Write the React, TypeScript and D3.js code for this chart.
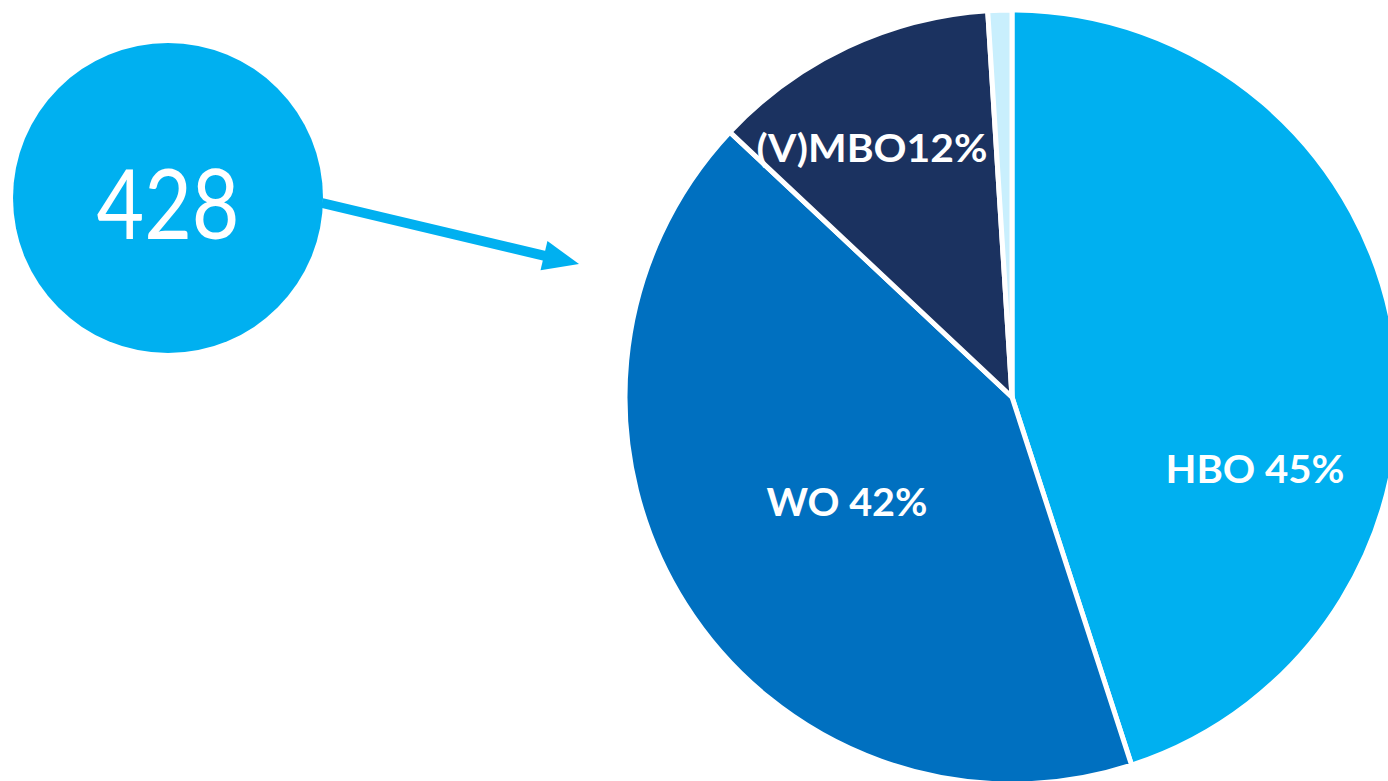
import React from "react";
import * as d3 from "d3";

const categories = ["HBO", "WO", "(V)MBO", "Overig"];
const shares = [45, 42, 12, 1];
const labels = ["HBO 45%", "WO 42%", "(V)MBO12%", ""];
const total = 428;

const colors = ["#00B0F0", "#0070C0", "#1B3260", "#C9EFFD"];
// label layout relative to pie centre: [dx, dy, width]
const labelLayout: [number, number, number][] = [
  [243, 71, 179],
  [-165, 104, 161],
  [-140, -250, 231],
  [0, 0, 0],
];

export default function App() {
  const W = 1388;
  const H = 781;
  const cx = 1012;
  const cy = 397;
  const r = 387;
  const pie = d3
    .pie<number>()
    .sort(null)
    .value((d) => d)
    .startAngle(0)
    .endAngle(2 * Math.PI);
  const arcs = pie(shares);
  const arc = d3.arc<d3.PieArcDatum<number>>().innerRadius(0).outerRadius(r);

  // arrow
  const x0 = 322,
    y0 = 203,
    x1 = 579,
    y1 = 264;
  const ang = Math.atan2(y1 - y0, x1 - x0);
  const headLen = 36;
  const headHalf = 15;
  const bx = x1 - headLen * Math.cos(ang);
  const by = y1 - headLen * Math.sin(ang);
  const px = -Math.sin(ang);
  const py = Math.cos(ang);
  const head = [
    [x1, y1],
    [bx + headHalf * px, by + headHalf * py],
    [bx - headHalf * px, by - headHalf * py],
  ];

  return (
    <svg
      width={W}
      height={H}
      style={{ position: "absolute", left: 0, top: 0, display: "block" }}
    >
      <rect width={W} height={H} fill="#ffffff" />
      <g transform={`translate(${cx},${cy})`}>
        {arcs.map((a, i) => (
          <path
            key={categories[i]}
            d={arc(a) || ""}
            fill={colors[i]}
            stroke="#ffffff"
            strokeWidth={5}
            strokeLinejoin="miter"
          />
        ))}
        {arcs.map((a, i) =>
          labels[i] ? (
            <text
              key={"l" + i}
              x={labelLayout[i][0]}
              y={labelLayout[i][1]}
              textAnchor="middle"
              dominantBaseline="central"
              fill="#ffffff"
              fontFamily="Lato, 'Open Sans', sans-serif"
              fontWeight={700}
              fontSize={39}
              textLength={labelLayout[i][2]}
              lengthAdjust="spacingAndGlyphs"
            >
              {labels[i]}
            </text>
          ) : null
        )}
      </g>
      <line
        x1={x0}
        y1={y0}
        x2={bx + 2 * Math.cos(ang)}
        y2={by + 2 * Math.sin(ang)}
        stroke="#00B0F0"
        strokeWidth={10}
      />
      <polygon points={head.map((p) => p.join(",")).join(" ")} fill="#00B0F0" />
      <circle cx={168} cy={198} r={155} fill="#00B0F0" />
      <text
        x={168}
        y={201}
        textAnchor="middle"
        dominantBaseline="central"
        fill="#ffffff"
        fontFamily="Lato, 'Open Sans', sans-serif"
        fontWeight={400}
        fontSize={96}
        textLength={143}
        lengthAdjust="spacingAndGlyphs"
      >
        {total}
      </text>
    </svg>
  );
}
